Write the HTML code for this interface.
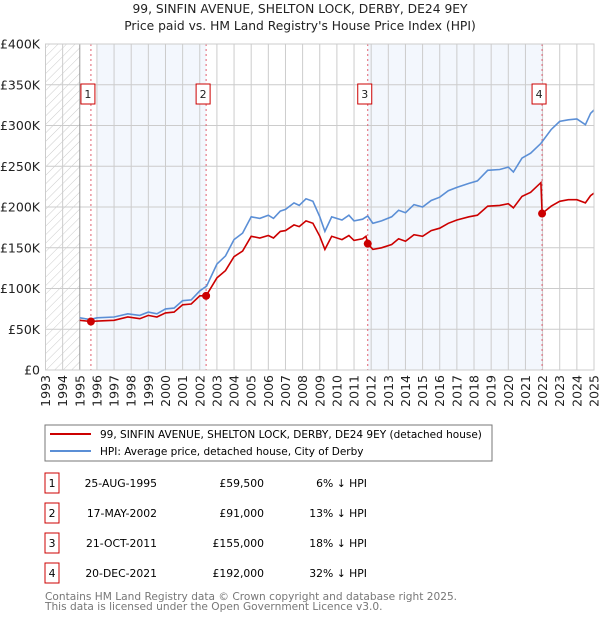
<!DOCTYPE html>
<html><head><meta charset="utf-8"><style>
body{margin:0;background:#fff;font-family:"DejaVu Sans","Liberation Sans",sans-serif;}
svg text{font-family:"DejaVu Sans","Liberation Sans",sans-serif;}
</style></head><body>
<svg id="c" width="600" height="620" xmlns="http://www.w3.org/2000/svg">
<defs><pattern id="hatch" width="6" height="6" patternUnits="userSpaceOnUse" patternTransform="rotate(45)"><line x1="0" y1="0" x2="0" y2="6" stroke="#ccc" stroke-width="1"/></pattern></defs>
<text x="300" y="13" text-anchor="middle" font-size="12.3" fill="#222">99, SINFIN AVENUE, SHELTON LOCK, DERBY, DE24 9EY</text>
<text x="300" y="30" text-anchor="middle" font-size="12.3" fill="#222">Price paid vs. HM Land Registry's House Price Index (HPI)</text>
<g id="plot"></g>
<rect x="45" y="425" width="447" height="36" fill="#fff" stroke="#777"/>
<line x1="50" y1="434" x2="91" y2="434" stroke="#cc0000" stroke-width="2"/>
<text x="100" y="438" font-size="10.5" fill="#000">99, SINFIN AVENUE, SHELTON LOCK, DERBY, DE24 9EY (detached house)</text>
<line x1="50" y1="451" x2="91" y2="451" stroke="#5b8fd6" stroke-width="2"/>
<text x="100" y="455" font-size="10.5" fill="#000">HPI: Average price, detached house, City of Derby</text>
<g id="table" font-size="10.8" fill="#000"></g>
<text x="45" y="600" font-size="10.6" fill="#777">Contains HM Land Registry data © Crown copyright and database right 2025.</text>
<text x="45" y="610" font-size="10.6" fill="#777">This data is licensed under the Open Government Licence v3.0.</text>
</svg>
<script>
const hpiDates=[1995.0,1995.6,1996,1997,1997.8,1998.5,1999,1999.5,2000,2000.5,2001,2001.5,2002,2002.4,2003,2003.5,2004,2004.5,2005,2005.5,2006,2006.3,2006.7,2007,2007.5,2007.8,2008.2,2008.6,2009.0,2009.3,2009.7,2010.3,2010.7,2011,2011.5,2011.8,2012.1,2012.6,2013.2,2013.6,2014,2014.5,2015,2015.5,2016,2016.5,2017,2017.7,2018.2,2018.8,2019.5,2020,2020.3,2020.8,2021.3,2021.9,2022.5,2023,2023.5,2024,2024.5,2024.8,2025];
const hpiValues=[64,62,64,65,69,67,71,69,75,76,85,86,97,103,130,140,160,168,188,186,190,186,195,197,205,202,210,207,188,170,188,184,190,183,185,189,180,183,188,196,193,203,200,208,212,220,224,229,232,245,246,249,243,260,266,278,295,305,307,308,301,315,319];
const priceDates=[1995.0,1995.65,1996,1997,1997.8,1998.5,1999,1999.5,2000,2000.5,2001,2001.5,2002,2002.37,2003,2003.5,2004,2004.5,2005,2005.5,2006,2006.3,2006.7,2007,2007.5,2007.8,2008.2,2008.6,2009,2009.3,2009.7,2010.3,2010.7,2011,2011.5,2011.7,2011.8,2012.1,2012.6,2013.2,2013.6,2014,2014.5,2015,2015.5,2016,2016.5,2017,2017.7,2018.2,2018.8,2019.5,2020,2020.3,2020.8,2021.3,2021.9,2021.97,2022.5,2023,2023.5,2024,2024.5,2024.8,2025];
const priceValues=[61,59.5,60,61,65,63,67,65,70,71,80,81,91,91,113,122,139,146,164,162,165,162,170,171,178,176,183,180,164,148,164,160,165,159,161,164,155,148,150,154,161,158,166,164,171,174,180,184,188,190,201,202,204,199,213,218,230,192,201,207,209,209,205,214,217];
const saleLabels=["1","2","3","4"];
const saleDates=[1995.65,2002.37,2011.8,2021.97];
const salePrices=[59500,91000,155000,192000];
const saleDateText=["25-AUG-1995","17-MAY-2002","21-OCT-2011","20-DEC-2021"];
const salePriceText=["£59,500","£91,000","£155,000","£192,000"];
const saleHpiText=["6% ↓ HPI","13% ↓ HPI","18% ↓ HPI","32% ↓ HPI"];
const yTicks=[0,50,100,150,200,250,300,350,400];
const yTickLabels=["£0","£50K","£100K","£150K","£200K","£250K","£300K","£350K","£400K"];
const xYears=[1993,1994,1995,1996,1997,1998,1999,2000,2001,2002,2003,2004,2005,2006,2007,2008,2009,2010,2011,2012,2013,2014,2015,2016,2017,2018,2019,2020,2021,2022,2023,2024,2025];

const L=45.5,R=594,T=44,B=370;
const X=y=>L+(y-1993)*(R-L)/32;
const Y=v=>B-v*(B-T)/400;
const NS="http://www.w3.org/2000/svg";
const g=document.getElementById('plot');
function mk(tag,at,parent){const e=document.createElementNS(NS,tag);for(const k in at)e.setAttribute(k,at[k]);(parent||g).appendChild(e);return e;}

let e;
e=mk('rect',{x:L,y:T,width:R-L,height:B-T,fill:'#fff'});


e=mk('rect',{x:X(1996),y:T,width:X(saleDates[1])-X(1996),height:B-T,fill:'#eef3fc',opacity:0.7});


e=mk('rect',{x:X(saleDates[2]),y:T,width:X(saleDates[3])-X(saleDates[2]),height:B-T,fill:'#eef3fc',opacity:0.7});


e=mk('rect',{x:L,y:T,width:X(1995)-L,height:B-T,fill:'url(#hatch)'});


yTicks.forEach((v,i)=>{
  e=mk('line',{x1:L,x2:R,y1:Y(v),y2:Y(v),stroke:'#ccc','stroke-width':1});
  
  
  e=mk('text',{x:40,y:Y(v)+4.5,'text-anchor':'end','font-size':12.5,fill:'#222'});
  e.textContent=yTickLabels[i];
  
  
});
xYears.forEach(yr=>{
  e=mk('line',{x1:X(yr),x2:X(yr),y1:T,y2:B,stroke:yr===1995?'#999':'#ccc','stroke-width':1});
  
  
  e=mk('text',{x:0,y:0,'text-anchor':'end','font-size':12.5,fill:'#222',transform:`translate(${X(yr)+4.5},375) rotate(-90)`});
  e.textContent=yr;
  
  
});
saleDates.forEach((d,i)=>{
  e=mk('line',{x1:X(d),x2:X(d),y1:T,y2:B,stroke:'#e06070','stroke-width':1,'stroke-dasharray':'2,3'});
  
  
});
const pts=(ds,vs)=>ds.map((d,i)=>X(d).toFixed(1)+','+Y(vs[i]).toFixed(1)).join(' ');
e=mk('polyline',{points:pts(hpiDates,hpiValues),fill:'none',stroke:'#5b8fd6','stroke-width':1.6});


e=mk('polyline',{points:pts(priceDates,priceValues),fill:'none',stroke:'#cc0000','stroke-width':1.6});


saleDates.forEach((d,i)=>{
  e=mk('circle',{cx:X(d),cy:Y(salePrices[i]/1000),r:4,fill:'#cc0000'});
  
  
  e=mk('rect',{x:X(d)-10,y:84,width:14,height:20,fill:'#fff',stroke:'#cc0000'});
  
  
  e=mk('text',{x:X(d)-3,y:98,'text-anchor':'middle','font-size':11,fill:'#222'});
  e.textContent=saleLabels[i];
  
  
});
e=mk('rect',{x:L,y:T,width:R-L,height:B-T,fill:'none',stroke:'#ccc'});



const tb=document.getElementById('table');
saleLabels.forEach((lab,i)=>{
  const cy=483+i*30;
  e=mk('rect',{x:45,y:cy-10,width:14,height:20,fill:'#fff',stroke:'#cc0000'},tb);
  
  
  e=mk('text',{x:52,y:cy+4,'text-anchor':'middle'},tb);
  e.textContent=lab;
  
  
  e=mk('text',{x:157,y:cy+4,'text-anchor':'end'},tb);
  e.textContent=saleDateText[i];
  
  
  e=mk('text',{x:264,y:cy+4,'text-anchor':'end'},tb);
  e.textContent=salePriceText[i];
  
  
  e=mk('text',{x:367,y:cy+4,'text-anchor':'end'},tb);
  e.textContent=saleHpiText[i];
  
  
});
</script>
</body></html>
